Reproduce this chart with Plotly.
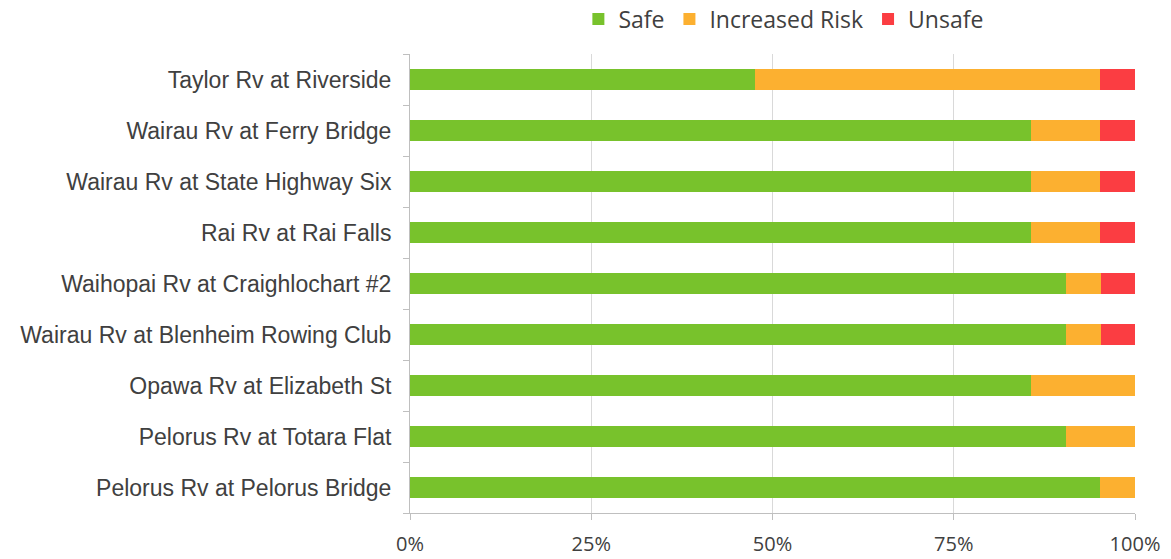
import plotly.graph_objects as go

# Sites listed bottom-to-top as plotted
sites = [
    "Pelorus Rv at Pelorus Bridge",
    "Pelorus Rv at Totara Flat",
    "Opawa Rv at Elizabeth St",
    "Wairau Rv at Blenheim Rowing Club",
    "Waihopai Rv at Craighlochart #2",
    "Rai Rv at Rai Falls",
    "Wairau Rv at State Highway Six",
    "Wairau Rv at Ferry Bridge",
    "Taylor Rv at Riverside",
]

# Share of samples in each grade (%)
safe = [95.2, 90.5, 85.7, 90.5, 90.5, 85.7, 85.7, 85.7, 47.6]
increased_risk = [4.8, 9.5, 14.3, 4.8, 4.8, 9.5, 9.5, 9.5, 47.6]
unsafe = [0.0, 0.0, 0.0, 4.7, 4.7, 4.8, 4.8, 4.8, 4.8]

x_ticks = [0, 25, 50, 75, 100]
x_tick_labels = ["0%", "25%", "50%", "75%", "100%"]

series = [
    ("Safe", safe, "#78c22c"),
    ("Increased Risk", increased_risk, "#fcb030"),
    ("Unsafe", unsafe, "#fb3d42"),
]

fig = go.Figure()
for name, vals, color in series:
    fig.add_trace(go.Bar(
        y=sites, x=vals, name=name, orientation="h",
        marker=dict(color=color, line=dict(width=0)),
    ))

fig.update_layout(
    barmode="stack",
    bargap=0.6,
    width=1171, height=559,
    margin=dict(l=410, r=36, t=54, b=46, autoexpand=False),
    paper_bgcolor="white", plot_bgcolor="white",
    legend=dict(
        orientation="h", x=0.515, xanchor="center", y=1.076, yanchor="middle",
        font=dict(family="Open Sans, sans-serif", size=23, color="#404040"),
        itemwidth=30, traceorder="normal", bgcolor="rgba(0,0,0,0)",
    ),
    xaxis=dict(
        range=[0, 100], tickvals=x_ticks, ticktext=x_tick_labels,
        showgrid=True, gridcolor="#d9d9d9", gridwidth=1,
        showline=True, linecolor="#bfbfbf", linewidth=1,
        ticks="outside", ticklen=6, tickcolor="#bfbfbf",
        tickfont=dict(family="Open Sans, sans-serif", size=20, color="#404040"),
        ticklabelstandoff=7,
        zeroline=False,
    ),
    yaxis=dict(
        showline=True, linecolor="#bfbfbf", linewidth=1,
        ticks="outside", ticklen=6, tickcolor="#bfbfbf", tickson="boundaries",
        tickfont=dict(family="Liberation Sans, Arial, sans-serif", size=23, color="#404040"),
        ticklabelstandoff=13,
    ),
)

fig.write_html("out.html")
